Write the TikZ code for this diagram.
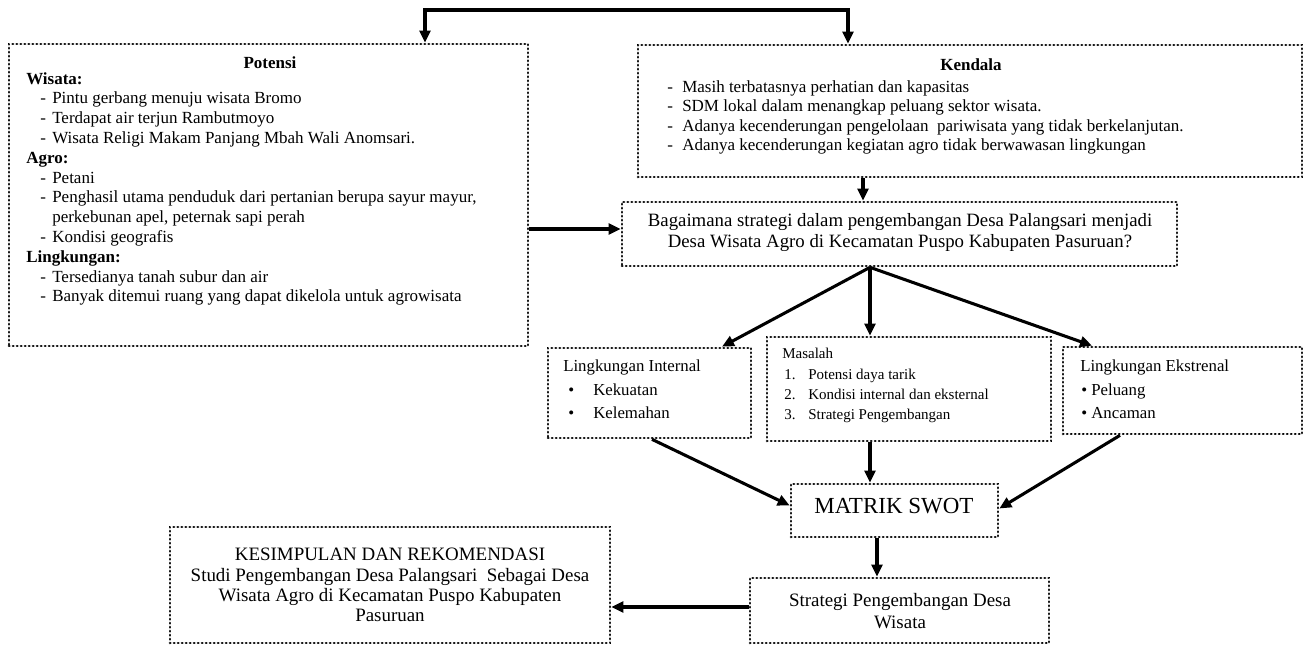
\documentclass[tikz,border=0pt]{standalone}
\usepackage{fontspec}
\setmainfont{Liberation Serif}
\usetikzlibrary{arrows.meta,fit,calc}
\begin{document}
\begin{tikzpicture}[x=0.75pt,y=-0.75pt,
  dotbox/.style={draw, line width=2pt, line cap=round, dash pattern=on 0.3pt off 2.7pt, inner sep=0pt},
  arr/.style={line width=2.3pt, -{Triangle[length=9pt,width=8pt]}},
  txt/.style={inner sep=0pt, anchor=mid west},
  txtc/.style={inner sep=0pt, anchor=mid},
  fP/.style={font=\fontsize{12.75pt}{15pt}\selectfont},
  fPb/.style={font=\fontsize{12.75pt}{15pt}\selectfont\bfseries},
  fQ/.style={font=\fontsize{14.1pt}{17pt}\selectfont},
  fL/.style={font=\fontsize{12.6pt}{15pt}\selectfont},
  fM/.style={font=\fontsize{11.25pt}{13pt}\selectfont},
  fS/.style={font=\fontsize{17.25pt}{20pt}\selectfont},
  fK/.style={font=\fontsize{14.2pt}{17pt}\selectfont}
]
\useasboundingbox (0,0) rectangle (1305,652);

% boxes
\node[dotbox, fit={(9,44) (528,346)}] (pot) {};
\node[dotbox, fit={(638,45) (1302,177)}] (ken) {};
\node[dotbox, fit={(622,202) (1177,266)}] (bag) {};
\node[dotbox, fit={(548,348) (751,438)}] (li) {};
\node[dotbox, fit={(767,337) (1051,441)}] (mas) {};
\node[dotbox, fit={(1063,347) (1302,434)}] (le) {};
\node[dotbox, fit={(791,484) (998,537)}] (mat) {};
\node[dotbox, fit={(750,578) (1049,643)}] (str) {};
\node[dotbox, fit={(170,527) (610,643)}] (kes) {};

% Potensi text
\node[txtc,fPb] (potT) at (270,65) {Potensi};
\node[txt,fPb] (p0) at (26,81) {Wisata:};
\node[txt,fP] (p1) at (40,100.8) {\makebox[9pt][l]{-}Pintu gerbang menuju wisata Bromo};
\node[txt,fP] (p2) at (40,120.6) {\makebox[9pt][l]{-}Terdapat air terjun Rambutmoyo};
\node[txt,fP] (p3) at (40,140.4) {\makebox[9pt][l]{-}Wisata Religi Makam Panjang Mbah Wali Anomsari.};
\node[txt,fPb] (p4) at (26,160.2) {Agro:};
\node[txt,fP] (p5) at (40,180) {\makebox[9pt][l]{-}Petani};
\node[txt,fP] (p6) at (40,199.8) {\makebox[9pt][l]{-}Penghasil utama penduduk dari pertanian berupa sayur mayur,};
\node[txt,fP] (p7) at (52,219.6) {perkebunan apel, peternak sapi perah};
\node[txt,fP] (p8) at (40,239.4) {\makebox[9pt][l]{-}Kondisi geografis};
\node[txt,fPb] (p9) at (26,259.2) {Lingkungan:};
\node[txt,fP] (p10) at (40,279) {\makebox[9pt][l]{-}Tersedianya tanah subur dan air};
\node[txt,fP] (p11) at (40,298.8) {\makebox[9pt][l]{-}Banyak ditemui ruang yang dapat dikelola untuk agrowisata};

% Kendala text
\node[txtc,fPb] (kenT) at (971,67) {Kendala};
\node[txt,fP] (k1) at (667,89) {\makebox[11.25pt][l]{-}Masih terbatasnya perhatian dan kapasitas};
\node[txt,fP] (k2) at (667,108.5) {\makebox[11.25pt][l]{-}SDM lokal dalam menangkap peluang sektor wisata.};
\node[txt,fP] (k3) at (667,128) {\makebox[11.25pt][l]{-}Adanya kecenderungan pengelolaan\ \ pariwisata yang tidak berkelanjutan.};
\node[txt,fP] (k4) at (667,147.5) {\makebox[11.25pt][l]{-}Adanya kecenderungan kegiatan agro tidak berwawasan lingkungan};

% Bagaimana text
\node[txtc,fQ] (q1) at (900,223) {Bagaimana strategi dalam pengembangan Desa Palangsari menjadi};
\node[txtc,fQ] (q2) at (900,244) {Desa Wisata Agro di Kecamatan Puspo Kabupaten Pasuruan?};

% Lingkungan Internal
\node[txt,fL] (li1) at (563,368) {Lingkungan Internal};
\node[txt,fL] (li2) at (568,392) {\makebox[18.75pt][l]{\textbullet}Kekuatan};
\node[txt,fL] (li3) at (568,415) {\makebox[18.75pt][l]{\textbullet}Kelemahan};

% Masalah
\node[txt,fM] (m0) at (782,355) {Masalah};
\node[txt,fM] (m1) at (784,376) {\makebox[18pt][l]{1.}Potensi daya tarik};
\node[txt,fM] (m2) at (784,396) {\makebox[18pt][l]{2.}Kondisi internal dan eksternal};
\node[txt,fM] (m3) at (784,416) {\makebox[18pt][l]{3.}Strategi Pengembangan};

% Lingkungan Ekstrenal
\node[txt,fL] (le1) at (1080,368) {Lingkungan Ekstrenal};
\node[txt,fL] (le2) at (1081,392) {\textbullet\ Peluang};
\node[txt,fL] (le3) at (1081,415) {\textbullet\ Ancaman};

% Matrik
\node[txtc,fS] (matT) at (894,510) {MATRIK SWOT};

% Strategi
\node[txtc,fK] (s1) at (900,603) {Strategi Pengembangan Desa};
\node[txtc,fK] (s2) at (900,625) {Wisata};

% Kesimpulan
\node[txtc,fK] (c1) at (390,557) {KESIMPULAN DAN REKOMENDASI};
\node[txtc,fK] (c2) at (390,578) {Studi Pengembangan Desa Palangsari\ \ Sebagai Desa};
\node[txtc,fK] (c3) at (390,598) {Wisata Agro di Kecamatan Puspo Kabupaten};
\node[txtc,fK] (c4) at (390,618) {Pasuruan};

% connectors
\coordinate (xtl) at (425,10);
\coordinate (xtr) at (848,10);
\draw[line width=2.3pt, {Triangle[length=9pt,width=8pt]}-{Triangle[length=9pt,width=8pt]}]
  (xtl |- pot.north) -- (xtl) -- (xtr) -- (xtr |- ken.north);
\coordinate (ypb) at (0,229);
\draw[arr] (ypb -| pot.east) -- (ypb -| bag.west);
\coordinate (xkb) at (863,0);
\draw[arr] (xkb |- ken.south) -- (xkb |- bag.north);
\coordinate (xb) at (870,0);
\coordinate (xli) at (722,0);
\coordinate (xle) at (1092,0);
\draw[arr] (xb |- bag.south) -- (xli |- li.north);
\draw[arr] (xb |- bag.south) -- (xb |- mas.north);
\draw[arr] (xb |- bag.south) -- (xle |- le.north);
\coordinate (xlis) at (652,0);
\coordinate (xles) at (1120,0);
\draw[arr] (xlis |- li.south) -- ([yshift=3.75pt]mat.west);
\draw[arr] (xb |- mas.south) -- (xb |- mat.north);
\draw[arr] (xles |- le.south) -- ([yshift=1.5pt]mat.east);
\coordinate (xms) at (877,0);
\draw[arr] (xms |- mat.south) -- (xms |- str.north);
\coordinate (ysk) at (0,607);
\draw[arr] (ysk -| str.west) -- (ysk -| kes.east);
\end{tikzpicture}
\end{document}
